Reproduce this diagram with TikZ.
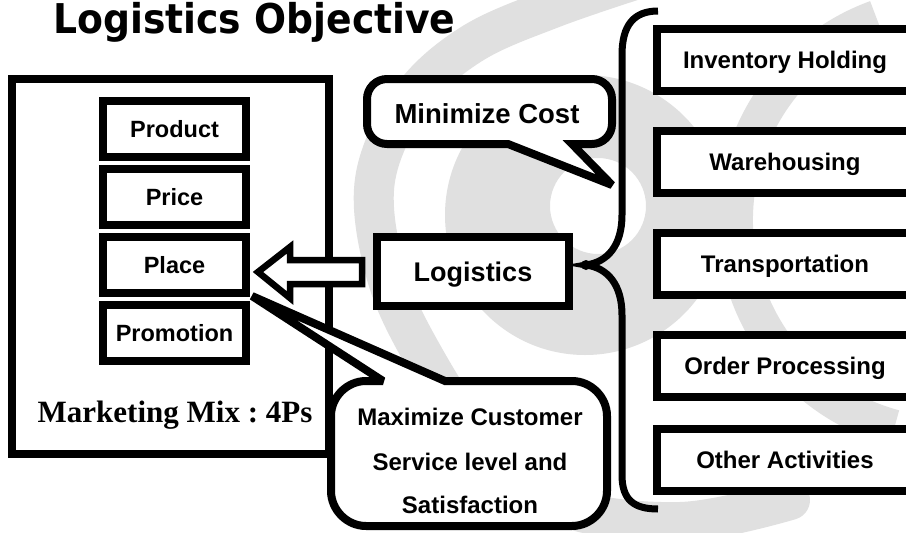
\documentclass[tikz,border=0pt]{standalone}
\usepackage{fontspec}
\usepackage{graphicx}
\usetikzlibrary{calc}
\newfontfamily\lsans{Liberation Sans}
\newfontfamily\lserif{Liberation Serif}
\newfontfamily\dvs{DejaVu Sans}
\frenchspacing
\begin{document}
\begin{tikzpicture}[x=1pt,y=-1pt,
  swirlc/.style={black!12},
  bigbox/.style={draw, line width=8pt, fill=white, minimum width=317pt, minimum height=375pt, inner sep=0pt},
  pbox/.style={draw, line width=7.5pt, fill=white, minimum width=143pt, minimum height=56pt, inner sep=0pt,
    font=\lsans\bfseries\fontsize{23.5}{26}\selectfont, text height=16.8pt, text depth=0pt},
  rbox/.style={draw, line width=8pt, fill=white, minimum width=256pt, minimum height=62pt, inner sep=0pt,
    font=\lsans\bfseries\fontsize{24}{27}\selectfont, text height=17.2pt, text depth=0pt},
  lbox/.style={draw, line width=8pt, fill=white, minimum width=192pt, minimum height=69pt, inner sep=0pt,
    font=\lsans\bfseries\fontsize{27}{30}\selectfont, text height=19.3pt, text depth=0pt},
  bubble/.style={draw, line width=8pt, fill=white, line join=miter, miter limit=3},
  hollow/.style={draw, line width=6.5pt, fill=white, line join=miter},
  bracestyle/.style={draw, line width=7pt},
  btext/.style={anchor=base, inner sep=0pt, font=\lsans\bfseries\fontsize{24}{27}\selectfont},
]
\fill[white] (0,0) rectangle (906,533);
\useasboundingbox (0,0) rectangle (906,533);
\clip (0,0) rectangle (906,533);

% background swirl
\fill[swirlc, even odd rule] (585,215) circle (140) (598,206) circle (48);
\draw[swirlc, line width=40pt, line cap=round] plot[smooth, tension=0.6] coordinates
  {(650,-25) (553,8) (470,45) (410,100) (375,180) (385,270) (420,350) (480,440) (560,505) (680,522) (790,500)};
\draw[swirlc, line width=36pt] (950,220) ++(-110:215) arc[start angle=-110, end angle=-255, radius=215];

% title
\node[anchor=base west, inner sep=0pt] (title) at (53,33)
  {\dvs\bfseries\fontsize{41}{45}\selectfont\scalebox{0.92}[1]{Logistics Objective}};

% marketing mix
\node[bigbox] (mix) at (170.5,266.5) {};
\node[pbox] (product) at (174.5,129) {Product};
\node[pbox] (price) at (174.5,197) {Price};
\node[pbox] (place) at (174.5,265) {Place};
\node[pbox] (promotion) at (174.5,333) {Promotion};
\node[anchor=base, inner sep=0pt] (mixlabel) at (175,422)
  {\lserif\bfseries\fontsize{31}{34}\selectfont Marketing Mix : 4Ps};

% logistics and hollow arrow
\node[lbox] (logistics) at (473,271.5) {Logistics};
\coordinate (atip) at (258,272);
\coordinate (atail) at (362,272);
\draw[hollow] ($(atail)+(0,-12)$) -- (290,260) -- (290,247) -- (atip) -- (290,298) -- (290,284) -- ($(atail)+(0,12)$) -- cycle;

% brace
\coordinate (bracetip) at (586,265);
\draw[bracestyle] (658,11) .. controls (634,11) and (622,25) .. (622,55) -- (622,215)
  .. controls (622,245) and (608,262) .. (bracetip)
  .. controls (608,268) and (622,285) .. (622,315) -- (622,475)
  .. controls (622,500) and (634,509) .. (658,509);
\fill (bracetip) circle (5);

% activity boxes
\node[rbox] (inv) at (785,60) {Inventory Holding};
\node[rbox] (ware) at (785,161.75) {Warehousing};
\node[rbox] (trans) at (785,263.75) {Transportation};
\node[rbox] (order) at (785,366) {Order Processing};
\node[rbox] (other) at (785,460.25) {Other Activities};

% minimize cost bubble
\draw[bubble] (387,79) -- (592,79) .. controls (603,79) and (612,88) .. (612,99) -- (612,124)
  .. controls (612,135) and (603,144) .. (592,144) -- (572,144) -- (612,185) -- (508,144) -- (387,144)
  .. controls (376,144) and (367,135) .. (367,124) -- (367,99)
  .. controls (367,88) and (376,79) .. (387,79) -- cycle;
\node[btext, font=\lsans\bfseries\fontsize{27.5}{30}\selectfont] (mincost) at (487,123) {Minimize Cost};

% maximize bubble
\draw[bubble] (366,381) -- (383,381) -- (252,296) -- (445,381) -- (572,381)
  .. controls (591,381) and (607,397) .. (607,416) -- (607,491)
  .. controls (607,510) and (591,526) .. (572,526) -- (366,526)
  .. controls (347,526) and (331,510) .. (331,491) -- (331,416)
  .. controls (331,397) and (347,381) .. (366,381) -- cycle;
\node[btext] (max1) at (470,425) {Maximize Customer};
\node[btext] (max2) at (470,470) {Service level and};
\node[btext] (max3) at (470,513) {Satisfaction};
\end{tikzpicture}
\end{document}
